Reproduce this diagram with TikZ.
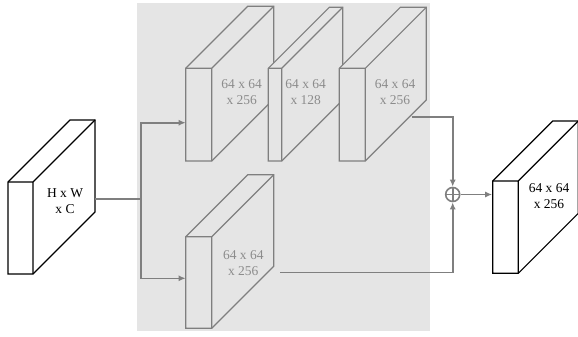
\documentclass[tikz,border=0pt]{standalone}
\usepackage{fontspec}
\setmainfont{Liberation Serif}
\usetikzlibrary{arrows.meta}
\definecolor{bgg}{HTML}{E5E5E5}
\definecolor{lg}{HTML}{7F7F7F}
\definecolor{tg}{HTML}{8C8C8C}
\newcommand{\cuboidbox}[7]{% x1,y1,x2,y2,d,draw,fill
  \filldraw[draw=#6,fill=#7,line width=1.2pt,line join=miter]
    (#1,#2) -- (#1+#5,#2-#5) -- (#3+#5,#2-#5) -- (#3+#5,#4-#5) -- (#3,#4) -- (#1,#4) -- cycle;
  \draw[#6,line width=1.2pt] (#1,#2) -- (#3,#2) -- (#3+#5,#2-#5) (#3,#2) -- (#3,#4);
}
\tikzset{
  lbl/.style={font=\fontsize{13.5}{16.5}\selectfont, align=center, inner sep=0pt},
  conn/.style={lg, line width=1.6pt},
  arr/.style={conn, -{Latex[length=7pt,width=6pt]}},
}
\begin{document}
\begin{tikzpicture}[x=1pt,y=-1pt]
\useasboundingbox (0,0) rectangle (578,337);
\fill[bgg] (137,3) rectangle (430,331);
% input box
\cuboidbox{8}{182}{33}{274}{62}{black}{white}
\node[lbl] (tin) at (65,201) {H x W\\x C};
% top row
\cuboidbox{185.7}{68.3}{211.7}{161}{62}{lg}{bgg}
\node[lbl,text=tg] (ta) at (241.7,92) {64 x 64\\x 256};
\cuboidbox{268.3}{68.3}{281.7}{161}{61}{lg}{bgg}
\node[lbl,text=tg] (tb) at (305.7,92) {64 x 64\\x 128};
\cuboidbox{339.3}{68.3}{365.3}{161}{61}{lg}{bgg}
\node[lbl,text=tg] (tc) at (395,92) {64 x 64\\x 256};
% bottom box
\cuboidbox{185.7}{236.7}{211.7}{328.3}{62}{lg}{bgg}
\node[lbl,text=tg] (td) at (243.3,263) {64 x 64\\x 256};
% output box
\cuboidbox{492.7}{181}{518.3}{273.3}{60}{black}{white}
\node[lbl] (tout) at (549,196) {64 x 64\\x 256};
% connection points
\coordinate (inout) at (95,199);
\coordinate (j) at (141,199);
\coordinate (ain) at (185.7,122.7);
\coordinate (din) at (185.7,278.3);
\coordinate (cout) at (411.7,117);
\coordinate (dout) at (280,272.3);
\coordinate (outin) at (492.2,194.5);
\node[circle, draw=lg, line width=1.6pt, minimum size=14pt, inner sep=0pt,
  path picture={\draw[lg,line width=1.6pt] (path picture bounding box.north) -- (path picture bounding box.south)
  (path picture bounding box.west) -- (path picture bounding box.east);}] (plus) at (452.7,194.5) {};
\draw[conn] (inout) -- (j);
\draw[arr] (j) |- (ain);
\draw[arr] (j) |- (din);
\draw[arr] (cout) -| (plus.north);
\draw[arr] (dout) -| (plus.south);
\draw[arr] (plus.east) -- (outin);
\end{tikzpicture}
\end{document}
